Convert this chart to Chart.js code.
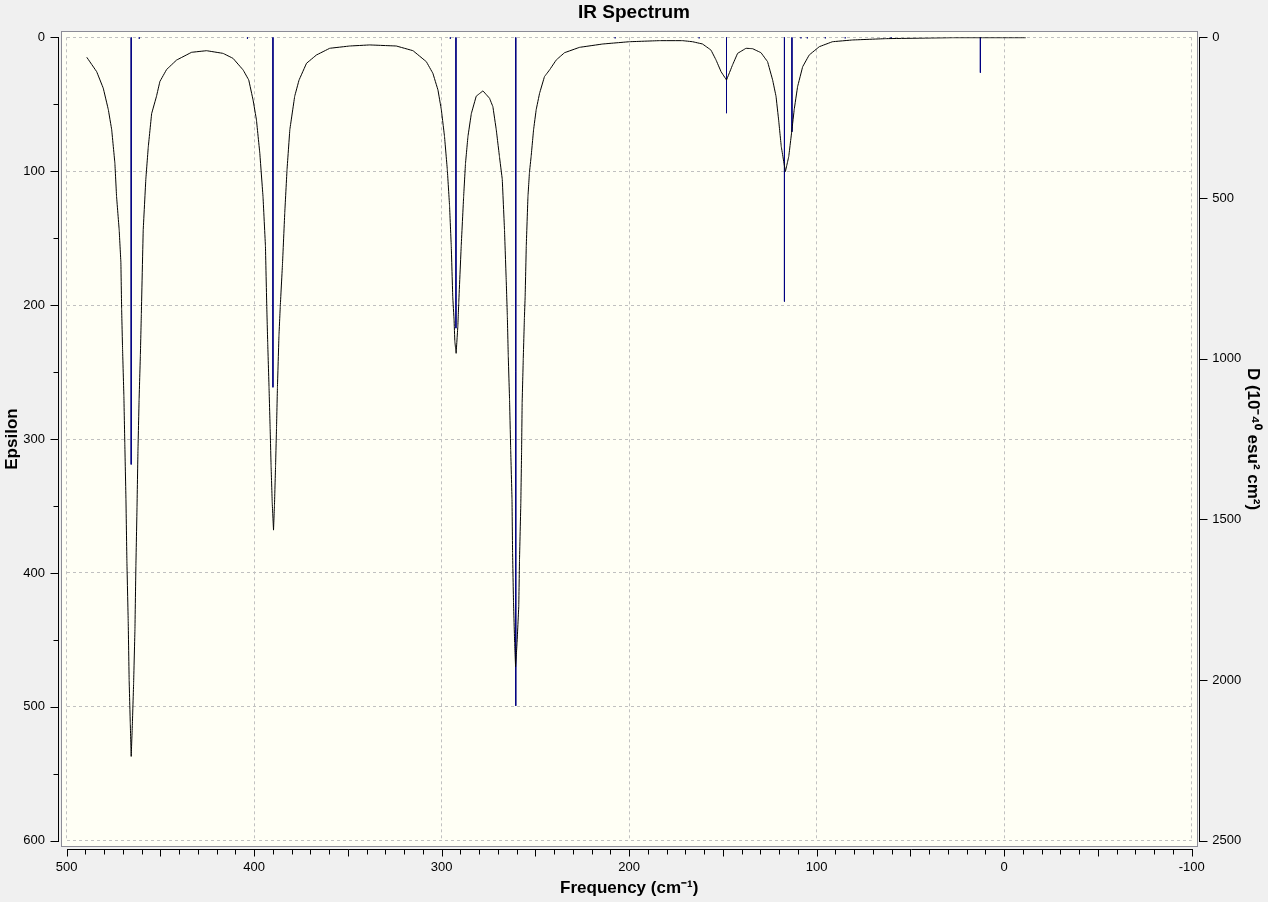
<!DOCTYPE html>
<html>
<head>
<meta charset="utf-8">
<title>IR Spectrum</title>
<script src="https://cdn.jsdelivr.net/npm/chart.js@4.4.0/dist/chart.umd.min.js"></script>
<style>
    body { margin: 0; background: #f0f0f0; }
    #wrap { width: 1268px; height: 902px; position: relative; }
</style>
</head>
<body>
<div id="wrap"><canvas id="irChart"></canvas></div>
<script>
// Broadened spectrum (frequency in cm-1, epsilon)
const curveFreq = [
    489.3, 484.0, 480.5, 477.8, 476.0, 474.3, 473.4, 472.0, 471.1, 470.7,
    470.2, 469.5, 469.0, 468.4, 467.9, 467.2, 466.7, 466.1, 465.6, 465.0,
    464.3, 463.6, 463.1, 462.5, 462.0, 461.4, 460.7, 460.2, 459.2, 457.8,
    456.5, 454.7, 452.1, 450.3, 446.7, 441.4, 433.4, 425.4, 416.6, 411.3,
    405.9, 402.9, 400.6, 398.8, 397.0, 395.3, 394.0, 393.3, 392.8, 392.1,
    391.5, 391.0, 390.4, 389.7, 389.2, 388.6, 388.1, 387.6, 386.8, 386.1,
    384.9, 383.7, 382.5, 381.0, 378.4, 376.1, 372.1, 366.8, 359.7, 349.1,
    338.4, 324.2, 315.3, 308.2, 304.7, 302.0, 300.2, 298.5, 297.0, 295.8,
    294.9, 294.1, 293.4, 293.0, 292.3, 291.4, 290.9, 289.6, 288.3, 287.3,
    286.0, 284.2, 281.6, 278.0, 274.5, 272.7, 270.9, 269.2, 267.7, 266.5,
    265.6, 265.0, 264.5, 263.8, 263.2, 262.5, 262.2, 261.7, 261.1, 260.6,
    259.8, 258.9, 258.5, 257.8, 257.4, 257.1, 256.5, 255.9, 255.5, 254.9,
    254.0, 253.2, 252.3, 251.0, 249.6, 247.8, 245.2, 242.5, 238.9, 234.5,
    226.5, 214.1, 199.9, 183.9, 171.5, 166.2, 160.9, 156.4, 153.7, 151.0,
    148.1, 144.9, 142.2, 137.7, 134.2, 129.7, 126.2, 123.5, 121.7, 120.3,
    118.9, 116.7, 114.9, 113.2, 112.0, 110.2, 107.5, 104.0, 98.6, 91.6,
    80.9, 63.1, 27.6, -11.5
];
const curveEps = [
    14.9, 25.7, 38, 54, 69, 94, 119, 144, 168, 203,
    233, 268, 304, 345, 391, 436, 480, 512, 537, 514,
    482, 442, 395, 351, 309, 271, 237, 207, 144, 106,
    82, 57, 44, 33, 24, 17, 11.2, 10, 12, 15.7,
    24.4, 31.9, 46.8, 61.7, 86.6, 119, 156, 201, 228, 261,
    292, 320, 347, 368, 350, 320, 292, 261, 223, 201,
    169, 131, 99, 69, 44, 32, 19.4, 13.2, 8.2, 6.5,
    5.7, 6.5, 10, 18.2, 26.9, 39.3, 54, 74, 99, 126,
    156, 194, 211, 227, 236, 216, 198, 156, 119, 94,
    74, 57, 44, 40, 45.5, 51.8, 69, 89, 106, 144,
    181, 208, 238, 271, 308, 345, 385, 422, 452, 470,
    452, 425, 390, 348, 310, 273, 240, 210, 194, 156,
    119, 101, 89, 69, 54, 41.8, 29.4, 24.4, 16.9, 11.5,
    7.5, 5, 3.3, 2.5, 2.5, 3.3, 5, 9.5, 16.9, 25.7,
    31.9, 20.7, 12, 8.2, 8.5, 11.5, 18.2, 31.9, 44, 61.7,
    81.6, 100.3, 89, 69, 54, 36.9, 22, 13.2, 7, 3.3,
    2, 1, 0.3, 0.3
];

// Stick spectrum: mode frequencies and dipole strengths D
const stickFreq = [465.6, 461.3, 403.6, 390.0, 295.4, 292.4, 260.5, 207.5, 162.7,
                   148.1, 117.2, 113.2, 108.4, 105.0, 95.4, 84.8, 60.3, 12.7];
const stickD = [1329, 4, 4, 1089, 4, 905, 2080, 3, 3,
                236, 822, 294, 3, 3, 3, 3, 3, 110];

// Axis ranges
const freqRange = [-100, 500];
const epsRange = [0, 600];
const dRange = [0, 2500];

const fontFamily = '"Liberation Sans", Arial, sans-serif';

const curvePoints = curveFreq.map((f, i) => ({ x: f, y: curveEps[i] }));
const stickPoints = [];
stickFreq.forEach((f, i) => {
    stickPoints.push({ x: f, y: 0 }, { x: f, y: stickD[i] }, { x: f, y: null });
});

// Plot box, offset axis lines and tick marks (scale driven)
const framePlugin = {
    id: 'frame',
    beforeDraw(chart) {
        const { ctx, chartArea: a } = chart;
        ctx.save();
        ctx.fillStyle = '#f0f0f0';
        ctx.fillRect(0, 0, chart.width, chart.height);
        const l = Math.round(a.left - 5.5) + 0.5;
        const t = Math.round(a.top - 6) + 0.5;
        const r = Math.round(a.right + 5) + 0.5;
        const b = Math.round(a.bottom + 5.5) + 0.5;
        ctx.fillStyle = '#fffff5';
        ctx.fillRect(l, t, r - l, b - t);
        ctx.strokeStyle = '#8c8c96';
        ctx.lineWidth = 1;
        ctx.strokeRect(l, t, r - l, b - t);
        ctx.restore();
    },
    afterDraw(chart) {
        const { ctx, chartArea: a, scales } = chart;
        const px = v => Math.round(v) + 0.5;
        ctx.save();
        ctx.strokeStyle = '#000';
        ctx.lineWidth = 1;
        ctx.beginPath();

        // bottom axis
        const yb = px(a.bottom + 8.5);
        ctx.moveTo(Math.round(a.left), yb);
        ctx.lineTo(Math.round(a.right) + 1, yb);
        for (let v = freqRange[1]; v >= freqRange[0]; v -= 10) {
            const x = px(scales.x.getPixelForValue(v));
            ctx.moveTo(x, yb);
            ctx.lineTo(x, yb + (v % 50 === 0 ? 7 : 5));
        }

        // left axis
        const xl = px(a.left - 8.5);
        ctx.moveTo(xl, Math.round(a.top));
        ctx.lineTo(xl, Math.round(a.bottom) + 1);
        for (let v = epsRange[0]; v <= epsRange[1]; v += 50) {
            const y = px(scales.y.getPixelForValue(v));
            ctx.moveTo(xl, y);
            ctx.lineTo(xl - (v % 100 === 0 ? 8 : 5), y);
        }

        // right axis
        const xr = px(a.right + 7.5);
        ctx.moveTo(xr, Math.round(a.top));
        ctx.lineTo(xr, Math.round(a.bottom) + 1);
        scales.yD.ticks.forEach(tk => {
            const y = px(scales.yD.getPixelForValue(tk.value));
            ctx.moveTo(xr, y);
            ctx.lineTo(xr + 8, y);
        });

        ctx.stroke();
        ctx.restore();
    }
};

const plainLabel = value => String(value);

new Chart(document.getElementById('irChart'), {
    type: 'scatter',
    data: {
        datasets: [
            {
                label: 'Spectrum',
                data: curvePoints,
                yAxisID: 'y',
                showLine: true,
                borderColor: '#000000',
                borderWidth: 1,
                pointRadius: 0,
                // tiny tension keeps Chart.js off its per-pixel fast path
                tension: 0.0001
            },
            {
                label: 'Sticks',
                data: stickPoints,
                yAxisID: 'yD',
                showLine: true,
                spanGaps: false,
                borderColor: '#000080',
                borderWidth: 1,
                pointRadius: 0
            }
        ]
    },
    options: {
        responsive: true,
        maintainAspectRatio: false,
        animation: false,
        layout: { padding: 0 },
        plugins: {
            legend: { display: false },
            tooltip: { enabled: false },
            title: {
                display: true,
                text: 'IR Spectrum',
                color: '#000',
                font: { family: fontFamily, size: 19, weight: 'bold', lineHeight: 1.2 },
                padding: { top: 1.6, bottom: 12.9 }
            }
        },
        scales: {
            x: {
                type: 'linear',
                position: 'bottom',
                reverse: true,
                min: freqRange[0],
                max: freqRange[1],
                afterFit: s => { s.height = 61.2; },
                ticks: {
                    stepSize: 100,
                    color: '#000',
                    padding: 19,
                    maxRotation: 0,
                    callback: plainLabel,
                    font: { family: fontFamily, size: 13 }
                },
                grid: { color: '#c0c0c0', drawTicks: false },
                border: { display: false, dash: [3, 3] },
                title: {
                    display: true,
                    text: 'Frequency (cm\u207B\u00B9)',
                    color: '#000',
                    font: { family: fontFamily, size: 17, weight: 'bold', lineHeight: 1.2 },
                    padding: { top: 0, bottom: 3.8 }
                }
            },
            y: {
                type: 'linear',
                position: 'left',
                reverse: true,
                min: epsRange[0],
                max: epsRange[1],
                afterFit: s => { s.width = 66.7; },
                ticks: {
                    stepSize: 100,
                    color: '#000',
                    padding: 21.7,
                    callback: plainLabel,
                    font: { family: fontFamily, size: 13 }
                },
                grid: { color: '#c0c0c0', drawTicks: false },
                border: { display: false, dash: [3, 3] },
                title: {
                    display: true,
                    text: 'Epsilon',
                    color: '#000',
                    font: { family: fontFamily, size: 17, weight: 'bold', lineHeight: 1.2 },
                    padding: { top: 1.8, bottom: 0 }
                }
            },
            yD: {
                type: 'linear',
                position: 'right',
                reverse: true,
                min: dRange[0],
                max: dRange[1],
                afterFit: s => { s.width = 76.3; },
                ticks: {
                    stepSize: 500,
                    color: '#000',
                    padding: 20.6,
                    callback: plainLabel,
                    font: { family: fontFamily, size: 13 }
                },
                grid: { display: false, drawTicks: false },
                border: { display: false },
                title: {
                    display: true,
                    text: 'D (10\u207B\u2074\u2070 esu\u00B2 cm\u00B2)',
                    color: '#000',
                    font: { family: fontFamily, size: 17, weight: 'bold', lineHeight: 1.2 },
                    padding: { top: 4.8, bottom: 0 }
                }
            }
        }
    },
    plugins: [framePlugin]
});
</script>
</body>
</html>
